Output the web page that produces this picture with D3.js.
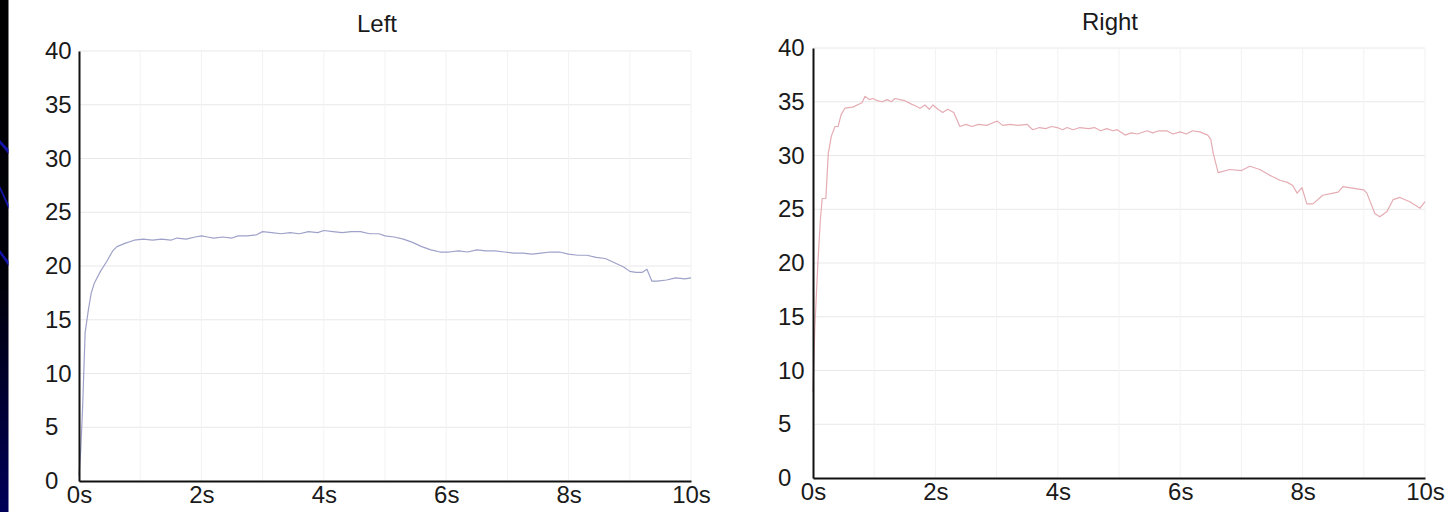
<!DOCTYPE html>
<html>
<head>
<meta charset="utf-8">
<script src="https://cdn.jsdelivr.net/npm/d3@7"></script>
<style>
  html, body { margin: 0; padding: 0; background: #fff; }
  svg { display: block; }
  text { font-family: "Liberation Sans", Arial, sans-serif; fill: #1a1a1a; }
</style>
</head>
<body>
<svg id="chart" width="1445" height="512"></svg>
<script>
// ---- data ----
const panelTitles = ["Left", "Right"];
const yTicks = [0, 5, 10, 15, 20, 25, 30, 35, 40];
const xTicks = [0, 2, 4, 6, 8, 10];
const xGridTicks = [1, 2, 3, 4, 5, 6, 7, 8, 9, 10];

const leftTime = [0, 0.03, 0.06, 0.1, 0.15, 0.2, 0.25, 0.35, 0.45, 0.55, 0.62, 0.75, 0.9, 1.05, 1.2, 1.35, 1.5, 1.6, 1.75, 1.9, 2.0, 2.1, 2.2, 2.35, 2.5, 2.6, 2.75, 2.9, 3.0, 3.15, 3.3, 3.45, 3.6, 3.75, 3.9, 4.0, 4.15, 4.3, 4.45, 4.6, 4.75, 4.9, 5.0, 5.15, 5.3, 5.45, 5.6, 5.75, 5.9, 6.05, 6.2, 6.35, 6.5, 6.65, 6.8, 6.95, 7.1, 7.25, 7.4, 7.55, 7.7, 7.85, 8.0, 8.15, 8.3, 8.45, 8.6, 8.75, 8.9, 9.0, 9.1, 9.2, 9.28, 9.36, 9.45, 9.6, 9.75, 9.9, 10.0];
const leftValues = [0.5, 3, 7, 13.8, 15.8, 17.5, 18.4, 19.5, 20.4, 21.4, 21.8, 22.1, 22.4, 22.5, 22.4, 22.5, 22.4, 22.6, 22.5, 22.7, 22.8, 22.7, 22.6, 22.7, 22.6, 22.8, 22.8, 22.9, 23.2, 23.1, 23.0, 23.1, 23.0, 23.2, 23.1, 23.3, 23.2, 23.1, 23.2, 23.2, 23.0, 23.0, 22.8, 22.7, 22.5, 22.2, 21.8, 21.5, 21.3, 21.3, 21.4, 21.3, 21.5, 21.4, 21.4, 21.3, 21.2, 21.2, 21.1, 21.2, 21.3, 21.3, 21.1, 21.0, 21.0, 20.8, 20.7, 20.3, 19.9, 19.5, 19.4, 19.4, 19.7, 18.6, 18.6, 18.7, 18.9, 18.8, 18.9];

const rightTime = [0, 0.03, 0.08, 0.12, 0.15, 0.21, 0.25, 0.3, 0.36, 0.41, 0.46, 0.52, 0.65, 0.8, 0.85, 0.92, 0.98, 1.05, 1.13, 1.21, 1.28, 1.34, 1.42, 1.5, 1.6, 1.68, 1.75, 1.83, 1.9, 1.96, 2.04, 2.12, 2.2, 2.3, 2.4, 2.5, 2.6, 2.7, 2.84, 2.92, 3.01, 3.1, 3.22, 3.35, 3.5, 3.59, 3.7, 3.8, 3.9, 3.99, 4.08, 4.15, 4.25, 4.36, 4.5, 4.6, 4.7, 4.8, 4.9, 4.97, 5.1, 5.2, 5.3, 5.46, 5.55, 5.65, 5.78, 5.88, 6.0, 6.1, 6.2, 6.32, 6.45, 6.5, 6.54, 6.62, 6.81, 7.0, 7.14, 7.3, 7.45, 7.63, 7.75, 7.84, 7.91, 7.99, 8.07, 8.17, 8.33, 8.5, 8.58, 8.66, 8.89, 9.0, 9.05, 9.18, 9.26, 9.38, 9.48, 9.59, 9.75, 9.92, 10.0];
const rightValues = [8, 14, 20, 24, 26, 26, 30.2, 31.8, 32.7, 32.7, 33.8, 34.4, 34.5, 34.9, 35.5, 35.2, 35.3, 35.1, 35.0, 35.2, 35.0, 35.3, 35.2, 35.1, 34.8, 34.6, 34.4, 34.7, 34.3, 34.7, 34.3, 34.0, 34.3, 34.0, 32.7, 32.9, 32.7, 32.9, 32.8, 33.0, 33.2, 32.8, 32.9, 32.8, 32.9, 32.4, 32.6, 32.5, 32.7, 32.6, 32.4, 32.6, 32.4, 32.6, 32.5, 32.6, 32.3, 32.5, 32.3, 32.4, 31.9, 32.1, 32.0, 32.3, 32.1, 32.3, 32.3, 32.0, 32.2, 32.0, 32.3, 32.2, 31.9, 31.5, 30.2, 28.4, 28.7, 28.6, 29.0, 28.7, 28.2, 27.7, 27.5, 27.2, 26.5, 27.0, 25.5, 25.5, 26.3, 26.5, 26.6, 27.1, 26.9, 26.8, 26.5, 24.6, 24.3, 24.8, 25.9, 26.1, 25.7, 25.1, 25.7];

// ---- layout ----
const panels = [
  { title: panelTitles[0], time: leftTime, values: leftValues, color: "#9ea2c9",
    x0: 79, x1: 691, yTop: 51, yBottom: 481, labelX: 45, titleX: 377, titleY: 32 },
  { title: panelTitles[1], time: rightTime, values: rightValues, color: "#e5acb3",
    x0: 813, x1: 1425, yTop: 48, yBottom: 478, labelX: 778, titleX: 1110, titleY: 30 }
];

const svg = d3.select("#chart");

// slide background strip on the far left
const defs = svg.append("defs");
const grad = defs.append("linearGradient").attr("id", "strip")
  .attr("x1", 0).attr("y1", 0).attr("x2", 0).attr("y2", 1);
grad.append("stop").attr("offset", "0").attr("stop-color", "#000000");
grad.append("stop").attr("offset", "0.55").attr("stop-color", "#00000a");
grad.append("stop").attr("offset", "1").attr("stop-color", "#000058");
svg.append("rect").attr("x", 0).attr("y", 0).attr("width", 8.5).attr("height", 512)
  .attr("fill", "url(#strip)");
const stripLines = [[140, 152], [186, 207], [250, 264]];
svg.append("g").selectAll("polygon").data(stripLines).join("polygon")
  .attr("points", d => `0,${d[0]} 8.5,${d[1] - 3} 8.5,${d[1] + 2} 0,${d[0] + 4}`)
  .attr("fill", "#1414a8");

panels.forEach(p => {
  const x = d3.scaleLinear().domain([0, 10]).range([p.x0, p.x1]);
  const y = d3.scaleLinear().domain([0, 40]).range([p.yBottom, p.yTop]);
  const g = svg.append("g");

  // grid
  g.append("g").selectAll("line.h").data(yTicks.filter(v => v > 0)).join("line")
    .attr("x1", p.x0).attr("x2", p.x1)
    .attr("y1", d => y(d)).attr("y2", d => y(d))
    .attr("stroke", "#e8e8e8").attr("stroke-width", 1);
  g.append("g").selectAll("line.v").data(xGridTicks).join("line")
    .attr("x1", d => x(d)).attr("x2", d => x(d))
    .attr("y1", p.yTop).attr("y2", p.yBottom)
    .attr("stroke", "#f2f2f2").attr("stroke-width", 1);

  // line
  const pts = d3.range(Math.min(p.time.length, p.values.length)).map(i => [p.time[i], p.values[i]]);
  g.append("path").datum(pts)
    .attr("fill", "none").attr("stroke", p.color).attr("stroke-width", 1.2)
    .attr("stroke-linejoin", "round")
    .attr("d", d3.line().x(d => x(d[0])).y(d => y(d[1])));

  // axes
  const ya = g.append("g").attr("transform", `translate(${p.x0},0)`)
    .call(d3.axisLeft(y).tickValues(yTicks).tickSize(0).tickPadding(8).tickSizeOuter(0));
  ya.selectAll(".tick text").attr("text-anchor", "start").attr("x", p.labelX - p.x0);
  const xa = g.append("g").attr("transform", `translate(0,${p.yBottom})`)
    .call(d3.axisBottom(x).tickValues(xTicks).tickSize(0).tickPadding(5).tickSizeOuter(0)
      .tickFormat(d => d + "s"));
  [ya, xa].forEach(a => {
    a.select(".domain").attr("stroke", "#111").attr("stroke-width", 2);
    a.selectAll("text").attr("font-size", 24)
      .attr("font-family", "'Liberation Sans', Arial, sans-serif").attr("fill", "#1a1a1a");
  });

  // title
  g.append("text").attr("x", p.titleX).attr("y", p.titleY)
    .attr("text-anchor", "middle").attr("font-size", 24).text(p.title);
});
</script>
</body>
</html>
